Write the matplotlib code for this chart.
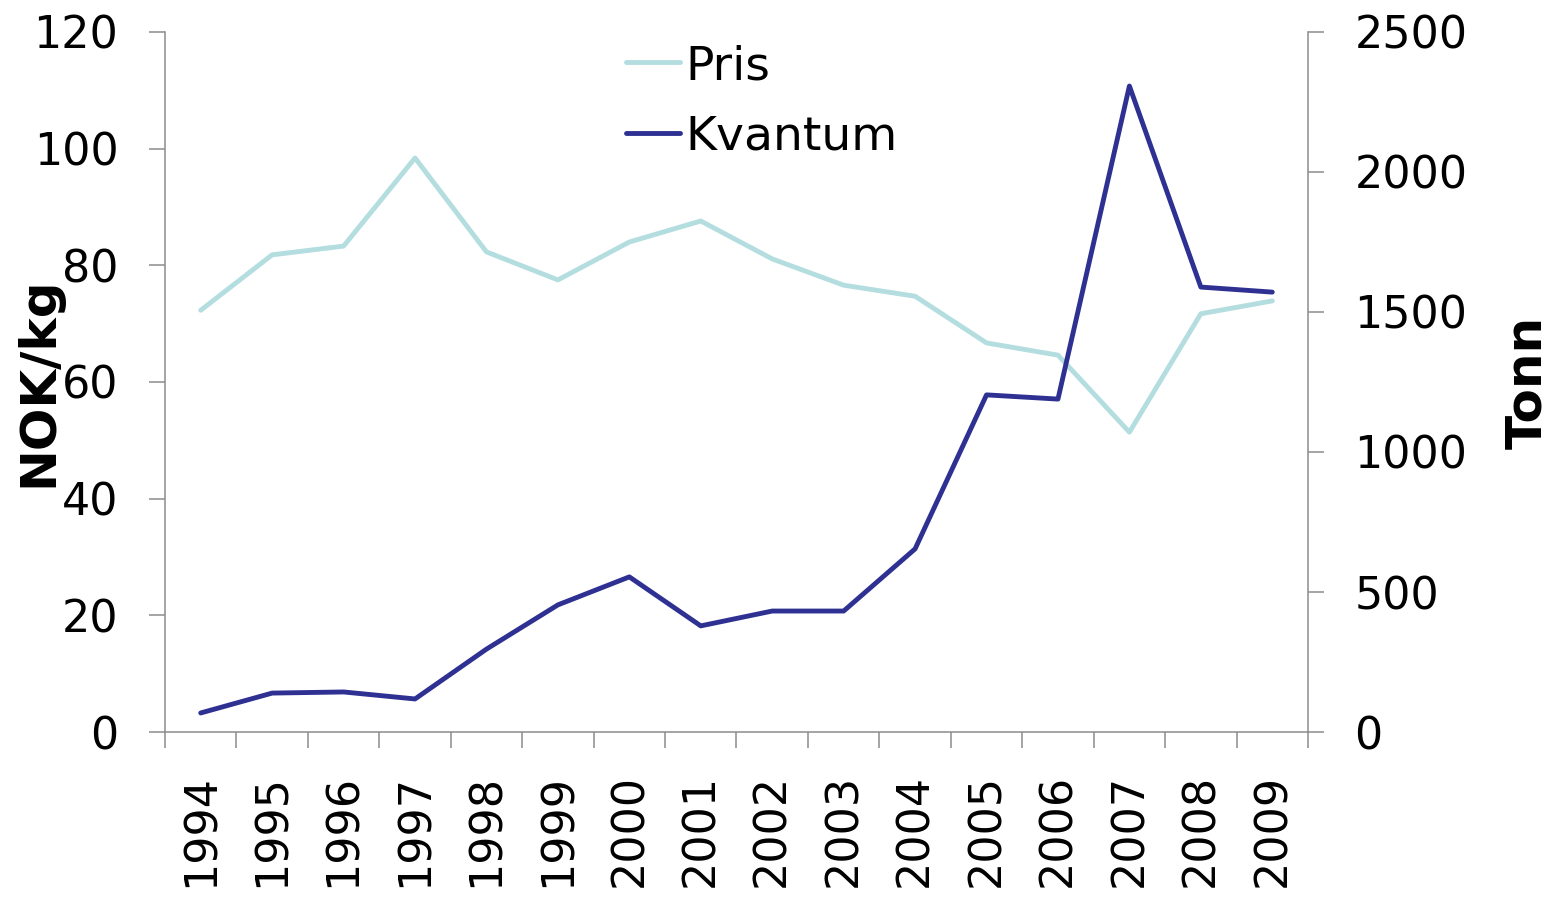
import matplotlib
matplotlib.use("Agg")
import matplotlib.pyplot as plt
import numpy as np

years = ["1994", "1995", "1996", "1997", "1998", "1999", "2000", "2001",
         "2002", "2003", "2004", "2005", "2006", "2007", "2008", "2009"]
pris = [72.3, 81.8, 83.3, 98.4, 82.3, 77.5, 84.0, 87.6,
        81.1, 76.6, 74.7, 66.7, 64.6, 51.4, 71.7, 73.9]
kvantum = [68, 139, 143, 118, 296, 454, 554, 379,
           432, 432, 654, 1204, 1189, 2307, 1589, 1571]
left_ticks = [0, 20, 40, 60, 80, 100, 120]
right_ticks = [0, 500, 1000, 1500, 2000, 2500]

plt.rcParams['font.family'] = ['DejaVu Sans']

fig = plt.figure(figsize=(15.6, 8.98), dpi=100)
ax = fig.add_axes([165/1560, 1-732/898, (1308-165)/1560, 700/898])
ax2 = ax.twinx()

pris_color = "#B4DDE0"
kv_color = "#2E3192"
spine_color = "#8C8C8C"
fs = 32

x = np.arange(len(years))
l1, = ax.plot(x, pris, color=pris_color, lw=3.5, label="Pris",
              solid_joinstyle='round', solid_capstyle='round')
l2, = ax2.plot(x, kvantum, color=kv_color, lw=3.5, label="Kvantum",
               solid_joinstyle='round', solid_capstyle='round')

ax.set_xlim(-0.5, len(years)-0.5)
ax.set_ylim(0, 120)
ax2.set_ylim(0, 2500)

ax.set_yticks(left_ticks)
ax.set_yticklabels([str(v) for v in left_ticks])
ax2.set_yticks(right_ticks)
ax2.set_yticklabels([str(v) for v in right_ticks])

ax.set_xticks(x)
ax.set_xticklabels(years, rotation=90, fontsize=fs)
ax.set_xticks(np.arange(-0.5, len(years), 1.0), minor=True)
ax.tick_params(axis='x', which='major', length=0, pad=30)
ax.tick_params(axis='x', which='minor', length=11.5, width=1.1, color=spine_color, direction='out')
ax.tick_params(axis='y', which='major', length=11.5, width=1.1, color=spine_color,
               labelsize=fs, pad=22, direction='out')
ax2.tick_params(axis='y', which='major', length=11.5, width=1.1, color=spine_color,
                labelsize=fs, pad=22, direction='out')

for a in (ax, ax2):
    a.spines['top'].set_visible(False)
    for s in ('left', 'right', 'bottom'):
        a.spines[s].set_color(spine_color)
        a.spines[s].set_linewidth(1.1)
ax.spines['right'].set_visible(False)
ax2.spines['left'].set_visible(False)
ax2.spines['bottom'].set_visible(False)

ax.set_ylabel("NOK/kg", fontsize=36, fontweight='bold')
ax.yaxis.label.set_va('center')
ax.yaxis.set_label_coords((38-165)/1143, 0.5)
ax2.set_ylabel("Tonn", fontsize=36, fontweight='bold', rotation=90)
ax2.yaxis.label.set_va('center')
ax2.yaxis.set_label_coords((1527-165)/1143, 0.5)

fig.legend(handles=[l1, l2], loc='upper left', bbox_to_anchor=(626/1560, 1-44/898),
           frameon=False, fontsize=34, handlelength=1.15, handletextpad=0.1,
           borderpad=0, borderaxespad=0, labelspacing=0.55)

fig.savefig("out.png", dpi=100)
